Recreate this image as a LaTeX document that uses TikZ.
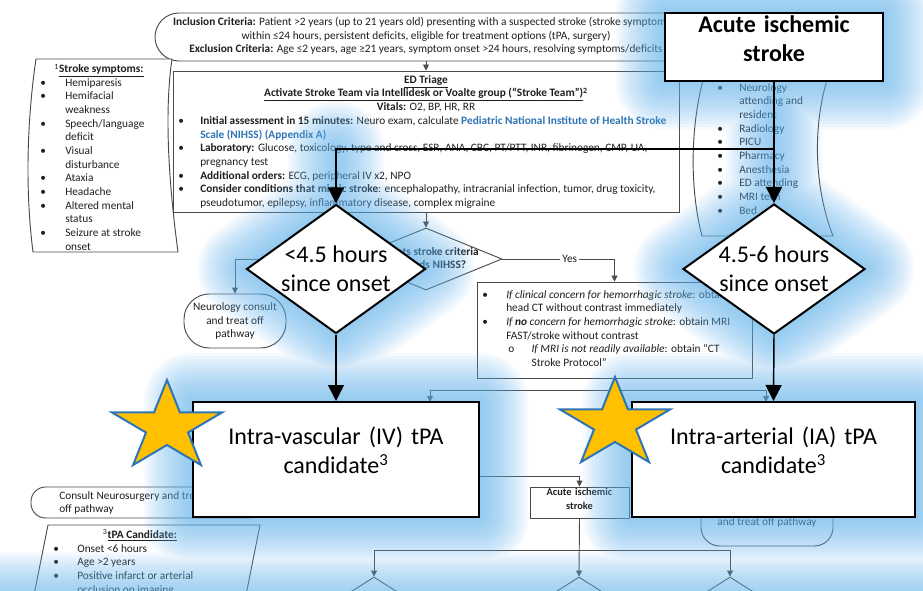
\documentclass[tikz,border=0pt]{standalone}
\usepackage{fontspec}
\setmainfont{Carlito}
\usetikzlibrary{arrows.meta,fit,shapes.geometric}
\pgfdeclarelayer{paper}
\pgfdeclarelayer{halo}
\pgfsetlayers{paper,halo,main}

\definecolor{ln}{HTML}{4A4A4A}
\definecolor{link}{HTML}{2E74B5}
\definecolor{glowc}{HTML}{5FB4F0}
\definecolor{starfill}{HTML}{FFC000}
\definecolor{starline}{HTML}{2E75B6}

\newcommand\bl[1]{\makebox[#1][l]{\textbullet}}
\newcommand\ind[1]{\hspace*{#1}}

\begin{document}
\begin{tikzpicture}[x=0.75pt,y=-0.75pt,
  every node/.style={inner sep=0pt},
  note/.style={font=\fontsize{8.5}{10.25}\selectfont, align=left, text=black!88},
  % multi-line text placed by the baseline of its first line (content starts with \strut)
  firstline/.style={yshift=0.7*10.25pt},
  box/.style={draw=ln, line width=0.7pt, fill=white},
  flow/.style={draw=ln, line width=0.7pt, -{Triangle[length=4.5pt,width=4.5pt]}},
  wire/.style={draw=ln, line width=0.7pt},
  big/.style={draw=black, line width=1.5pt, fill=white},
  bigtxt/.style={font=\fontsize{18}{21.8}\selectfont, align=center},
  bigbold/.style={font=\fontsize{18}{21.8}\selectfont\bfseries, align=center},
  heavy/.style={draw=black, line width=1.1pt},
  heavyarrow/.style={heavy, -{Triangle[length=12pt,width=12pt]}},
  starshape/.style={fill=starfill, draw=starline, line width=1.5pt, line join=miter},
  halo ring/.style={draw=glowc, draw opacity=0.06, line join=round, line cap=round, line width=#1*1.5pt},
]
\useasboundingbox (0,0) rectangle (923,591);

% ---------------- flowchart underneath ----------------
\begin{pgfonlayer}{paper}
\fill[white] (0,0) rectangle (923,591);

% inclusion / exclusion terminator
\node[fit={(155,13)(697,61)}, box, rounded corners=18pt] (incl) {};
\node[note, font=\fontsize{8.5}{10}\selectfont, align=center, anchor=north, yshift=7pt] (incl-t) at (426,25.7)
  {\strut\textbf{Inclusion Criteria:} Patient >2 years (up to 21 years old) presenting with a suspected stroke (stroke symptoms\textsuperscript{1})\\
   within ≤24 hours, persistent deficits, eligible for treatment options (tPA, surgery)\\
   \textbf{Exclusion Criteria:} Age ≤2 years, age ≥21 years, symptom onset >24 hours, resolving symptoms/deficits};

% stroke symptoms side note
\draw[wire, fill=white] (36,59) -- (172,59) .. controls (163,120) and (171,200) .. (178,252)
  -- (33,252) .. controls (25,190) and (27,120) .. (36,59) -- cycle;
\node[note, anchor=base] (sym-h) at (99,73) {\textsuperscript{1}\underline{\textbf{Stroke symptoms:}}};
\node[note, anchor=north west, firstline] (sym-t) at (40,86)
  {\strut\bl{18.75pt}Hemiparesis\\ \bl{18.75pt}Hemifacial\\ \ind{18.75pt}weakness\\
   \bl{18.75pt}Speech/language\\ \ind{18.75pt}deficit\\ \bl{18.75pt}Visual\\
   \ind{18.75pt}disturbance\\ \bl{18.75pt}Ataxia\\ \bl{18.75pt}Headache\\
   \bl{18.75pt}Altered mental\\ \ind{18.75pt}status\\ \bl{18.75pt}Seizure at stroke\\
   \ind{18.75pt}onset};

% stroke team side note
\draw[wire, fill=white] (703,62) -- (827,62) -- (827,80) .. controls (812,130) and (815,190) .. (833,236)
  -- (702,236) .. controls (690,190) and (690,130) .. (703,80) -- cycle;
\node[note, anchor=north west, firstline] (team-t) at (717,91)
  {\strut\bl{16.5pt}Neurology\\ \ind{16.5pt}attending and\\ \ind{16.5pt}resident\\
   \bl{16.5pt}Radiology\\ \bl{16.5pt}PICU\\ \bl{16.5pt}Pharmacy\\ \bl{16.5pt}Anesthesia\\
   \bl{16.5pt}ED attending\\ \bl{16.5pt}MRI tech\\ \bl{16.5pt}Bed};

% ED triage
\node[fit={(173,71)(679,212)}, box] (triage) {};
\node[note, align=center, anchor=north, firstline] (tri-h) at (426,83)
  {\strut\underline{\textbf{ED Triage}}\\
   \underline{\textbf{Activate Stroke Team via Intellidesk or Voalte group (“Stroke Team”)}}\textsuperscript{\textbf{2}}\\
   \textbf{Vitals:} O2, BP, HR, RR};
\node[note, anchor=north west, firstline] (tri-b) at (178,124.3)
  {\strut\bl{16.5pt}\textbf{Initial assessment in 15 minutes:} Neuro exam, calculate \textcolor{link}{\textbf{Pediatric National Institute of Health Stroke}}\\
   \ind{16.5pt}\textcolor{link}{\textbf{Scale (NIHSS) (Appendix A)}}\\
   \bl{16.5pt}\textbf{Laboratory:} Glucose, toxicology, type and cross, ESR, ANA, CBC, PT/PTT, INR, fibrinogen, CMP, UA,\\
   \ind{16.5pt}pregnancy test\\
   \bl{16.5pt}\textbf{Additional orders:} ECG, peripheral IV x2, NPO\\
   \bl{16.5pt}\textbf{Consider conditions that mimic stroke}: encephalopathy, intracranial infection, tumor, drug toxicity,\\
   \ind{16.5pt}pseudotumor, epilepsy, inflammatory disease, complex migraine};
\draw[flow] (incl.south) -- (triage.north);

% decision: peds NIHSS
\node[diamond, box, minimum width=152*0.75pt, minimum height=62*0.75pt] (peds) at (426,259) {};
\node[note, align=center] (peds-t) at (430,259) {\textbf{Meets stroke criteria}\\ \textbf{by Peds NIHSS?}};
\draw[flow] (triage.south) -- (peds.north);

% neurology consult terminator
\node[fit={(184,294)(286,348)}, box, rounded corners=19pt] (neuro) {};
\node[note, align=center] (neuro-t) at (235,321) {Neurology consult\\and treat off\\pathway};
\draw[flow] (peds.west) -| (neuro.north);

% imaging box
\node[fit={(477,282)(752,378)}, box] (img) {};
\node[note, anchor=north west, firstline] (img-t) at (482,298)
  {\strut\bl{18pt}\textit{If clinical concern for hemorrhagic stroke}: obtain\\
   \ind{18pt}head CT without contrast immediately\\
   \bl{18pt}\textit{If \textbf{no} concern for hemorrhagic stroke}: obtain MRI\\
   \ind{18pt}FAST/stroke without contrast\\
   \ind{19.5pt}\makebox[17.5pt][l]{o}\textit{If MRI is not readily available}: obtain “CT\\
   \ind{37pt}Stroke Protocol”};
\draw[flow] (peds.east) -| node[pos=0.3, fill=white, note, inner xsep=1.5pt, inner ysep=1pt] (yes) {Yes} (img.north);

% branches below imaging
\coordinate (split) at (614,390);
\coordinate (ivtop) at (430,402);
\coordinate (iatop) at (766,402);
\draw[wire] (img.south) -- (split);
\draw[flow] (split) -| (ivtop);
\draw[flow] (split) -| (iatop);

% consult neurosurgery terminators
\node[fit={(31,487)(265,518)}, box, rounded corners=11pt] (cns) {};
\node[note, anchor=north west, firstline] (cns-t) at (59,499) {\strut Consult Neurosurgery and treat\\off pathway};
\node[fit={(701,470)(833,546)}, box, rounded corners=14pt] (cns2) {};
\node[note, anchor=base] (cns2-t) at (767,525) {and treat off pathway};

% tPA candidate note
\draw[wire, fill=white] (48,525) -- (260,525) -- (241,620) -- (29,620) -- cycle;
\node[note, anchor=base] (tpa-h) at (140,538) {\textsuperscript{3}\underline{\textbf{tPA Candidate:}}};
\node[note, anchor=north west, firstline] (tpa-t) at (53,552)
  {\strut\bl{18pt}Onset <6 hours\\ \bl{18pt}Age >2 years\\ \bl{18pt}Positive infarct or arterial\\ \ind{18pt}occlusion on imaging};

% acute ischemic stroke (small)
\node[fit={(530,487)(629,518)}, box, note, align=center, font=\fontsize{7.8}{10.3}\selectfont\bfseries] (ais) {Acute ischemic\\stroke};
\coordinate (feed) at (440,476);
\draw[flow] (feed) -| (ais.north);

\node[diamond, box, minimum width=120*0.75pt, minimum height=76*0.75pt] (q1) at (374,615) {};
\node[diamond, box, minimum width=120*0.75pt, minimum height=76*0.75pt] (q2) at (579,615) {};
\node[diamond, box, minimum width=120*0.75pt, minimum height=76*0.75pt] (q3) at (730,615) {};
\coordinate (split2) at (579,550);
\draw[flow] (ais.south) -- (q2.north);
\draw[flow] (split2) -| (q1.north);
\draw[flow] (split2) -| (q3.north);
\end{pgfonlayer}

% ---------------- highlighted pathway ----------------
\node[fit={(665,13)(883,81)}, big, bigbold] (acute) {Acute ischemic\\stroke};
\node[diamond, big, minimum width=179*0.75pt, minimum height=129*0.75pt] (d1) at (336,269) {};
\node[bigtxt] (d1-t) at (336,269) {<4.5 hours\\since onset};
\node[diamond, big, minimum width=182*0.75pt, minimum height=130*0.75pt] (d2) at (774,269) {};
\node[bigtxt] (d2-t) at (774,269) {4.5-6 hours\\since onset};
\node[fit={(193,402)(479,517)}, big, bigtxt] (iv) {Intra-vascular (IV) tPA\\candidate\textsuperscript{3}};
\node[fit={(632,402)(915,517)}, big, bigtxt] (ia) {Intra-arterial (IA) tPA\\candidate\textsuperscript{3}};

\coordinate (fork) at (774,149);
\coordinate (elbow) at (336,149);
\draw[heavy] (acute.south) -- (fork);
\draw[heavyarrow] (fork) -- (d2.north);
\draw[heavyarrow] (fork) -- (elbow) -- (d1.north);
\draw[heavyarrow] (d1.south) -- (iv.north);
\draw[heavyarrow] (d2.south) -- (ia.north);

\begin{scope}[shift={(167,427)}, xscale=57.8, yscale=47]
  \draw[starshape] (-90:1) -- (-54:0.382) -- (-18:1) -- (18:0.382) -- (54:1) -- (90:0.382)
    -- (126:1) -- (162:0.382) -- (198:1) -- (234:0.382) -- cycle;
\end{scope}
\begin{scope}[shift={(615,424)}, xscale=57.8, yscale=47]
  \draw[starshape] (-90:1) -- (-54:0.382) -- (-18:1) -- (18:0.382) -- (54:1) -- (90:0.382)
    -- (126:1) -- (162:0.382) -- (198:1) -- (234:0.382) -- cycle;
\end{scope}

% soft glow around the highlighted shapes and their vertical feeds
\begin{pgfonlayer}{halo}
\foreach \d in {3,6,...,48}{
  \path[halo ring=\d]
    (acute.north west) rectangle (acute.south east)
    (iv.north west) rectangle (iv.south east)
    (ia.north west) rectangle (ia.south east)
    (d1.north) -- (d1.east) -- (d1.south) -- (d1.west) -- cycle
    (d2.north) -- (d2.east) -- (d2.south) -- (d2.west) -- cycle
    (acute.south) -- (d2.north)
    (elbow) -- (d1.north)
    (-100,600) rectangle (1023,700);
}
\end{pgfonlayer}
\end{tikzpicture}
\end{document}
